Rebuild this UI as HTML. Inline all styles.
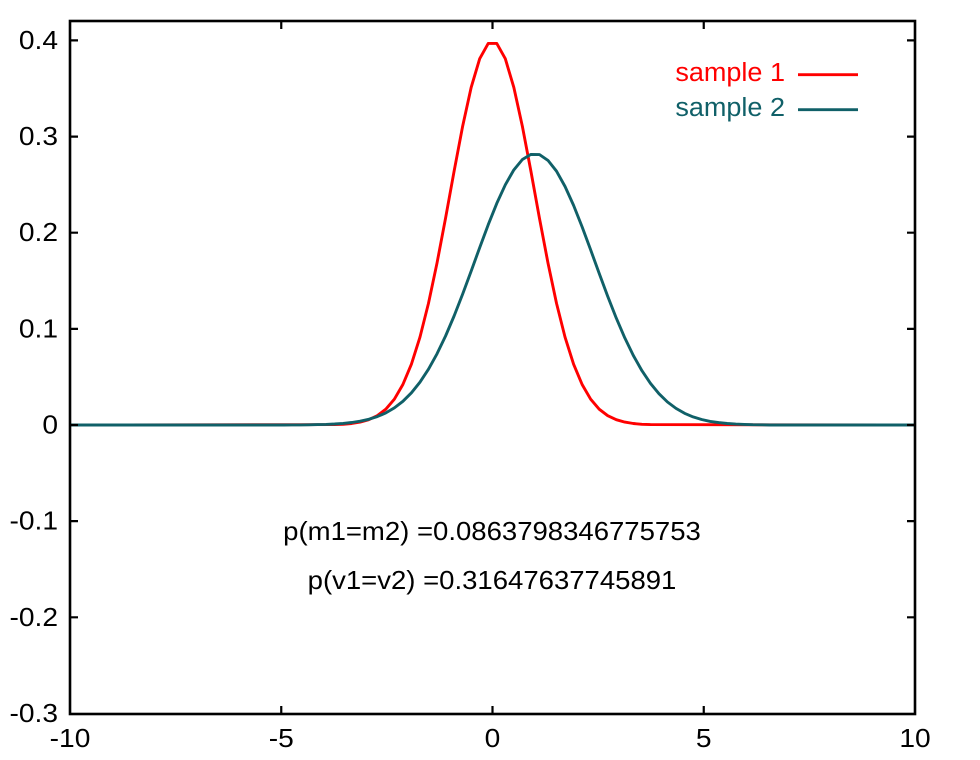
<!DOCTYPE html>
<html>
<head>
<meta charset="utf-8">
<style>
  html, body { margin:0; padding:0; background:#fff; }
  svg { display:block; }
  text { font-family: "Liberation Sans", Arial, sans-serif; font-size:25.5px; fill:#000; }
</style>
</head>
<body>
<svg width="980" height="760" viewBox="0 0 980 760" xmlns="http://www.w3.org/2000/svg">
  <rect x="0" y="0" width="980" height="760" fill="#fff"/>

  <!-- curves -->
  <path fill="none" stroke="#ff0000" stroke-width="2.9" stroke-linejoin="round"
    d="M70,425 L334.59,424.6 L343.13,424.3 L351.66,423.5 L360.20,422.1 L368.73,419.7 L377.27,415.7 L385.81,409.2 L394.34,399.2 L402.88,384.5 L411.41,364.2 L419.95,337.2 L428.48,303.3 L437.02,263.0 L445.56,218.1 L454.09,171.2 L462.63,126.3 L471.16,87.4 L479.70,58.7 L488.23,43.4 L496.77,43.4 L505.30,58.7 L513.84,87.4 L522.37,126.3 L530.91,171.2 L539.44,218.1 L547.98,263.0 L556.52,303.3 L565.05,337.2 L573.59,364.2 L582.12,384.5 L590.66,399.2 L599.19,409.2 L607.73,415.7 L616.27,419.7 L624.80,422.1 L633.34,423.5 L641.87,424.3 L650.41,424.6 L915,425"/>
  <path fill="none" stroke="#106068" stroke-width="2.9" stroke-linejoin="round"
    d="M70,425 L283.39,425 L291.92,424.9 L300.46,424.9 L308.99,424.8 L317.53,424.6 L326.06,424.4 L334.60,424.0 L343.13,423.4 L351.67,422.5 L360.20,421.2 L368.74,419.3 L377.27,416.6 L385.81,412.9 L394.35,407.9 L402.88,401.3 L411.42,392.8 L419.95,382.2 L428.49,369.2 L437.02,353.8 L445.56,336.0 L454.09,316.0 L462.63,294.1 L471.16,271.1 L479.70,247.6 L488.23,224.7 L496.77,203.4 L505.31,184.8 L513.84,169.9 L522.38,159.5 L530.91,154.4 L539.45,154.6 L547.98,160.4 L556.52,171.2 L565.05,186.5 L573.59,205.4 L582.12,226.9 L590.66,249.9 L599.19,273.4 L607.73,296.4 L616.27,318.1 L624.80,337.9 L633.34,355.5 L641.87,370.6 L650.41,383.3 L658.94,393.7 L667.48,402.0 L676.01,408.4 L684.55,413.3 L693.08,416.9 L701.62,419.5 L710.15,421.4 L718.69,422.6 L727.23,423.5 L735.76,424.1 L744.30,424.4 L752.83,424.7 L761.37,424.8 L769.90,425 L915,425"/>

  <!-- ticks -->
  <g stroke="#000" stroke-width="2.2">
    <path d="M70,40.4 h8 M70,136.6 h8 M70,232.7 h8 M70,328.9 h8 M70,425 h8 M70,521.1 h8 M70,617.3 h8
             M915,40.4 h-8 M915,136.6 h-8 M915,232.7 h-8 M915,328.9 h-8 M915,425 h-8 M915,521.1 h-8 M915,617.3 h-8
             M281.25,714 v-8 M492.5,714 v-8 M703.75,714 v-8
             M281.25,21 v8 M492.5,21 v8 M703.75,21 v8"/>
  </g>

  <!-- frame -->
  <rect x="70" y="21" width="845" height="693" fill="none" stroke="#000" stroke-width="2.6"/>

  <!-- y tick labels -->
  <g text-anchor="end">
    <text transform="translate(58,48.9) scale(1.105,1)">0.4</text>
    <text transform="translate(58,145.1) scale(1.105,1)">0.3</text>
    <text transform="translate(58,241.2) scale(1.105,1)">0.2</text>
    <text transform="translate(58,337.4) scale(1.105,1)">0.1</text>
    <text transform="translate(58,433.5) scale(1.105,1)">0</text>
    <text transform="translate(58,529.6) scale(1.105,1)">-0.1</text>
    <text transform="translate(58,625.8) scale(1.105,1)">-0.2</text>
    <text transform="translate(58,721.9) scale(1.105,1)">-0.3</text>
  </g>

  <!-- x tick labels -->
  <g text-anchor="middle">
    <text transform="translate(70,747) scale(1.105,1)">-10</text>
    <text transform="translate(281.25,747) scale(1.105,1)">-5</text>
    <text transform="translate(492.5,747) scale(1.105,1)">0</text>
    <text transform="translate(703.75,747) scale(1.105,1)">5</text>
    <text transform="translate(915,747) scale(1.105,1)">10</text>
  </g>

  <!-- legend -->
  <text text-anchor="end" transform="translate(785,81) scale(1.06,1)" style="fill:#ff0000">sample 1</text>
  <line x1="798" y1="74.7" x2="858" y2="74.7" stroke="#ff0000" stroke-width="2.9"/>
  <text text-anchor="end" transform="translate(785,116) scale(1.06,1)" style="fill:#106068">sample 2</text>
  <line x1="798" y1="109.7" x2="858" y2="109.7" stroke="#106068" stroke-width="2.9"/>

  <!-- annotations -->
  <text text-anchor="middle" transform="translate(492,540) scale(1.08,1)">p(m1=m2) =0.0863798346775753</text>
  <text text-anchor="middle" transform="translate(492,589) scale(1.08,1)">p(v1=v2) =0.31647637745891</text>
</svg>
</body>
</html>
